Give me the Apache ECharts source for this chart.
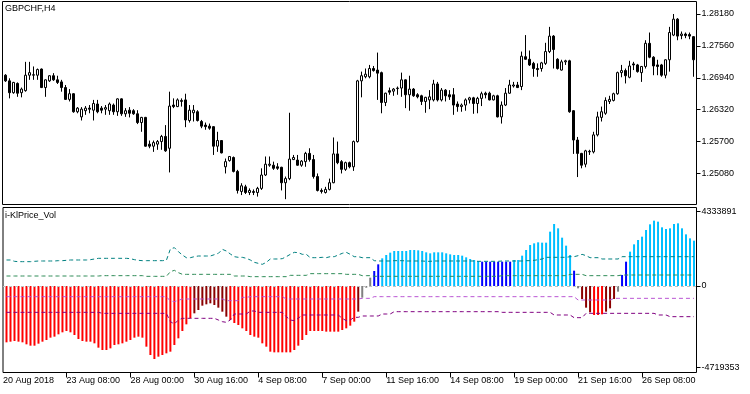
<!DOCTYPE html>
<html><head><meta charset="utf-8">
<script src="https://cdn.jsdelivr.net/npm/echarts@6/dist/echarts.min.js"></script>
<style>html,body{margin:0;padding:0;background:#fff}#c{width:750px;height:394px}</style>
</head><body><div id="c"></div>
<script>
// ---------- price panel (GBPCHF, H4), bar index 0..172 ----------
const openP = [
1.2699,1.2688,1.2665,1.2683,1.2665,1.2669,1.2699,1.2699,1.2699,1.2711,
1.2675,1.2688,1.2698,1.2690,1.2686,1.2675,1.2652,1.2663,1.2628,1.2618,
1.2630,1.2635,1.2631,1.2643,1.2635,1.2633,1.2630,1.2641,1.2628,1.2653,
1.2624,1.2631,1.2630,1.2624,1.2607,1.2617,1.2565,1.2561,1.2565,1.2570,
1.2580,1.2557,1.2641,1.2638,1.2648,1.2651,1.2611,1.2626,1.2628,1.2609,
1.2602,1.2600,1.2599,1.2561,1.2572,1.2521,1.2533,1.2539,1.2512,1.2473,
1.2482,1.2471,1.2471,1.2471,1.2479,1.2505,1.2524,1.2524,1.2521,1.2520,
1.2490,1.2498,1.2535,1.2534,1.2524,1.2531,1.2547,1.2535,1.2502,1.2475,
1.2471,1.2477,1.2490,1.2546,1.2531,1.2516,1.2529,1.2521,1.2570,1.2688,
1.2696,1.2696,1.2712,1.2709,1.2704,1.2646,1.2669,1.2668,1.2673,1.2674,
1.2690,1.2661,1.2672,1.2661,1.2659,1.2648,1.2651,1.2651,1.2682,1.2651,
1.2670,1.2661,1.2661,1.2643,1.2638,1.2641,1.2651,1.2655,1.2644,1.2654,
1.2664,1.2664,1.2651,1.2659,1.2618,1.2641,1.2664,1.2678,1.2680,1.2677,
1.2735,1.2730,1.2722,1.2712,1.2712,1.2722,1.2745,1.2775,1.2730,1.2709,
1.2725,1.2727,1.2630,1.2573,1.2547,1.2526,1.2550,1.2550,1.2583,1.2617,
1.2625,1.2648,1.2650,1.2663,1.2704,1.2708,1.2695,1.2721,1.2719,1.2704,
1.2716,1.2761,1.2734,1.2719,1.2719,1.2699,1.2729,1.2777,1.2808,1.2776,
1.2779,1.2778,1.2774];
const highP = [
1.2701,1.2693,1.2686,1.2685,1.2675,1.2725,1.2725,1.2716,1.2712,1.2712,
1.2691,1.2699,1.2703,1.2698,1.2690,1.2680,1.2672,1.2664,1.2637,1.2637,
1.2639,1.2641,1.2651,1.2651,1.2639,1.2641,1.2646,1.2644,1.2654,1.2654,
1.2635,1.2637,1.2633,1.2631,1.2618,1.2618,1.2572,1.2572,1.2573,1.2583,
1.2602,1.2667,1.2654,1.2654,1.2654,1.2663,1.2641,1.2641,1.2631,1.2612,
1.2607,1.2605,1.2600,1.2589,1.2573,1.2537,1.2542,1.2541,1.2515,1.2489,
1.2486,1.2479,1.2477,1.2482,1.2518,1.2541,1.2541,1.2531,1.2528,1.2521,
1.2502,1.2626,1.2544,1.2544,1.2534,1.2550,1.2557,1.2544,1.2508,1.2479,
1.2482,1.2498,1.2578,1.2570,1.2534,1.2531,1.2531,1.2572,1.2690,1.2706,
1.2712,1.2719,1.2717,1.2743,1.2706,1.2665,1.2675,1.2674,1.2677,1.2704,
1.2691,1.2698,1.2674,1.2664,1.2661,1.2657,1.2670,1.2690,1.2686,1.2674,
1.2672,1.2670,1.2674,1.2648,1.2644,1.2654,1.2657,1.2657,1.2657,1.2667,
1.2667,1.2667,1.2661,1.2661,1.2648,1.2674,1.2690,1.2686,1.2686,1.2745,
1.2777,1.2747,1.2725,1.2722,1.2725,1.2762,1.2793,1.2777,1.2732,1.2729,
1.2729,1.2729,1.2631,1.2579,1.2548,1.2554,1.2554,1.2589,1.2628,1.2638,
1.2656,1.2659,1.2665,1.2706,1.2719,1.2712,1.2727,1.2725,1.2721,1.2717,
1.2767,1.2782,1.2736,1.2729,1.2721,1.2730,1.2793,1.2818,1.2810,1.2784,
1.2782,1.2782,1.2775];
const lowP = [
1.2686,1.2654,1.2663,1.2657,1.2656,1.2667,1.2690,1.2690,1.2690,1.2674,
1.2657,1.2686,1.2688,1.2682,1.2667,1.2651,1.2648,1.2626,1.2625,1.2611,
1.2622,1.2625,1.2611,1.2625,1.2625,1.2622,1.2622,1.2622,1.2620,1.2620,
1.2618,1.2617,1.2622,1.2604,1.2589,1.2560,1.2557,1.2550,1.2554,1.2554,
1.2550,1.2510,1.2635,1.2637,1.2638,1.2598,1.2607,1.2609,1.2609,1.2596,
1.2593,1.2593,1.2544,1.2550,1.2547,1.2508,1.2531,1.2510,1.2469,1.2466,
1.2468,1.2466,1.2466,1.2463,1.2476,1.2503,1.2521,1.2515,1.2515,1.2475,
1.2458,1.2495,1.2534,1.2523,1.2521,1.2521,1.2531,1.2498,1.2473,1.2469,
1.2469,1.2475,1.2489,1.2526,1.2508,1.2513,1.2518,1.2513,1.2568,1.2656,
1.2693,1.2693,1.2706,1.2651,1.2625,1.2639,1.2661,1.2659,1.2661,1.2657,
1.2635,1.2630,1.2657,1.2654,1.2641,1.2626,1.2633,1.2648,1.2648,1.2648,
1.2648,1.2651,1.2622,1.2628,1.2628,1.2630,1.2644,1.2624,1.2625,1.2639,
1.2654,1.2650,1.2650,1.2617,1.2605,1.2639,1.2663,1.2675,1.2674,1.2670,
1.2729,1.2717,1.2696,1.2696,1.2706,1.2719,1.2742,1.2712,1.2710,1.2708,
1.2719,1.2626,1.2546,1.2501,1.2518,1.2520,1.2544,1.2547,1.2580,1.2609,
1.2622,1.2643,1.2648,1.2661,1.2695,1.2683,1.2693,1.2709,1.2704,1.2686,
1.2712,1.2732,1.2699,1.2699,1.2696,1.2693,1.2706,1.2775,1.2767,1.2769,
1.2771,1.2769,1.2696];
const closeP = [
1.2688,1.2665,1.2685,1.2664,1.2672,1.2699,1.2704,1.2700,1.2710,1.2675,
1.2690,1.2698,1.2690,1.2685,1.2675,1.2652,1.2663,1.2628,1.2635,1.2633,
1.2635,1.2633,1.2644,1.2628,1.2631,1.2636,1.2643,1.2628,1.2653,1.2624,
1.2630,1.2625,1.2624,1.2607,1.2617,1.2561,1.2561,1.2568,1.2570,1.2580,
1.2552,1.2639,1.2638,1.2651,1.2650,1.2612,1.2631,1.2631,1.2611,1.2600,
1.2599,1.2596,1.2561,1.2572,1.2548,1.2531,1.2541,1.2512,1.2475,1.2484,
1.2471,1.2475,1.2473,1.2479,1.2505,1.2526,1.2526,1.2518,1.2518,1.2490,
1.2498,1.2536,1.2539,1.2524,1.2532,1.2547,1.2535,1.2502,1.2475,1.2473,
1.2477,1.2490,1.2546,1.2529,1.2516,1.2529,1.2521,1.2570,1.2688,1.2698,
1.2701,1.2712,1.2708,1.2703,1.2646,1.2664,1.2666,1.2672,1.2674,1.2690,
1.2661,1.2672,1.2659,1.2657,1.2648,1.2656,1.2657,1.2682,1.2651,1.2670,
1.2659,1.2657,1.2641,1.2638,1.2641,1.2651,1.2655,1.2644,1.2654,1.2663,
1.2661,1.2651,1.2659,1.2618,1.2641,1.2664,1.2680,1.2680,1.2675,1.2736,
1.2730,1.2719,1.2712,1.2710,1.2723,1.2745,1.2775,1.2749,1.2712,1.2725,
1.2727,1.2628,1.2573,1.2547,1.2524,1.2552,1.2551,1.2583,1.2618,1.2628,
1.2650,1.2652,1.2663,1.2704,1.2708,1.2698,1.2717,1.2719,1.2706,1.2716,
1.2761,1.2734,1.2717,1.2716,1.2699,1.2729,1.2782,1.2808,1.2775,1.2779,
1.2776,1.2775,1.2729];
const priceTicks = [1.25080, 1.25700, 1.26320, 1.26940, 1.27560, 1.28180];

// ---------- i-KlPrice_Vol panel ----------
const histVol = [
-3269000,-3231000,-3192000,-3231000,-3269000,-3385000,-3463000,-3463000,-3347000,-3231000,
-3134000,-2998000,-2940000,-2805000,-2689000,-2612000,-2689000,-2844000,-3076000,-3192000,
-3231000,-3231000,-3327000,-3579000,-3714000,-3714000,-3618000,-3424000,-3385000,-3327000,
-3231000,-3134000,-2998000,-2940000,-2998000,-3521000,-4004000,-4237000,-4101000,-4004000,
-3908000,-3811000,-3424000,-3037000,-2612000,-2225000,-1876000,-1586000,-1393000,-1141000,
-1064000,-1006000,-1103000,-1257000,-1490000,-1780000,-1973000,-2147000,-2264000,-2457000,
-2612000,-2844000,-2940000,-2998000,-3327000,-3521000,-3811000,-3850000,-3850000,-3850000,
-3850000,-3850000,-3714000,-3463000,-3134000,-2844000,-2612000,-2612000,-2612000,-2612000,
-2650000,-2650000,-2650000,-2650000,-2554000,-2457000,-2302000,-2070000,-1490000,-677000,
-100000,484000,871000,1257000,1606000,1799000,1935000,2031000,2031000,2031000,
2031000,2089000,2089000,2070000,2031000,1954000,1896000,1954000,1954000,1954000,
1896000,1838000,1799000,1799000,1760000,1664000,1567000,1509000,1451000,1412000,
1412000,1412000,1412000,1412000,1412000,1412000,1412000,1509000,1509000,1760000,
2089000,2379000,2476000,2534000,2515000,2515000,3153000,3598000,3347000,2805000,
2341000,1799000,890000,-135000,-754000,-1257000,-1528000,-1683000,-1683000,-1644000,
-1490000,-1296000,-754000,-329000,638000,1412000,1993000,2418000,2670000,2863000,
3250000,3579000,3792000,3734000,3405000,3308000,3347000,3598000,3637000,3347000,
2998000,2766000,2631000];
// colour state of each histogram bar, as runs:
// R red, D dark red, G gray, B blue, S deep sky blue
const histStateRuns = [['R',47],['D',9],['R',32],['D',1],['G',3],['B',2],['S',25],['B',8],
  ['S',15],['B',1],['G',1],['D',3],['R',3],['D',3],['G',1],['B',2],['S',17]];
const upperBand = [
1509000,1509000,1432000,1412000,1412000,1412000,1412000,1432000,1451000,1451000,
1451000,1451000,1451000,1470000,1470000,1490000,1509000,1509000,1509000,1509000,
1509000,1528000,1567000,1606000,1606000,1606000,1606000,1606000,1606000,1606000,
1606000,1586000,1528000,1490000,1470000,1470000,1470000,1470000,1470000,1470000,
1490000,2147000,2225000,1993000,1799000,1644000,1644000,1702000,1741000,1741000,
1741000,1741000,1818000,1896000,2128000,2031000,1857000,1702000,1664000,1664000,
1606000,1509000,1373000,1315000,1257000,1373000,1567000,1567000,1567000,1586000,
1702000,1838000,1954000,1935000,1838000,1838000,1644000,1644000,1644000,1664000,
1644000,1702000,1702000,1799000,1896000,1954000,1838000,1702000,1702000,1644000,
1644000,1644000,1470000,1451000,1451000,1451000,1451000,1470000,1470000,1470000,
1451000,1451000,1451000,1451000,1451000,1432000,1432000,1451000,1451000,1451000,
1451000,1451000,1451000,1451000,1451000,1451000,1451000,1451000,1432000,1432000,
1432000,1432000,1432000,1432000,1451000,1451000,1451000,1451000,1451000,1451000,
1470000,1470000,1490000,1528000,1567000,1664000,1664000,1664000,1664000,1664000,
1664000,1702000,1702000,1760000,1838000,1760000,1644000,1644000,1644000,1567000,
1567000,1567000,1567000,1567000,1702000,1702000,1702000,1702000,1702000,1702000,
1702000,1702000,1702000,1702000,1702000,1702000,1702000,1702000,1702000,1702000,
1702000,1702000,1702000];
const midUpperBand = [
580000,580000,580000,580000,580000,580000,580000,580000,580000,580000,
580000,580000,580000,580000,580000,580000,580000,580000,580000,580000,
580000,580000,580000,580000,600000,600000,600000,600000,600000,600000,
600000,600000,600000,600000,600000,561000,561000,561000,561000,561000,
561000,832000,909000,774000,677000,677000,677000,677000,677000,677000,
677000,677000,677000,677000,677000,677000,677000,580000,580000,580000,
580000,542000,542000,542000,542000,542000,542000,542000,542000,542000,
542000,619000,619000,619000,619000,619000,716000,716000,716000,716000,
716000,716000,716000,716000,716000,677000,677000,677000,677000,600000,
600000,600000,561000,561000,561000,561000,561000,561000,561000,561000,
561000,561000,561000,561000,561000,561000,561000,561000,561000,561000,
561000,561000,561000,561000,561000,561000,561000,561000,561000,561000,
561000,561000,561000,561000,600000,600000,600000,600000,600000,600000,
600000,600000,600000,600000,600000,600000,600000,600000,600000,600000,
600000,677000,677000,677000,677000,600000,600000,600000,600000,600000,
600000,600000,600000,600000,638000,638000,638000,638000,638000,638000,
638000,638000,638000,638000,638000,638000,638000,638000,638000,638000,
638000,638000,638000];
const midLowerBand = [
-619000,-619000,-619000,-619000,-619000,-619000,-619000,-619000,-619000,-619000,
-619000,-619000,-619000,-619000,-619000,-619000,-619000,-619000,-619000,-619000,
-619000,-619000,-619000,-619000,-619000,-619000,-619000,-619000,-619000,-619000,
-619000,-619000,-619000,-619000,-619000,-619000,-619000,-619000,-619000,-619000,
-619000,-871000,-909000,-832000,-754000,-754000,-754000,-754000,-754000,-754000,
-754000,-754000,-754000,-754000,-754000,-851000,-851000,-851000,-851000,-658000,
-658000,-619000,-619000,-619000,-619000,-619000,-619000,-619000,-619000,-619000,
-754000,-754000,-754000,-754000,-754000,-754000,-754000,-754000,-754000,-754000,
-754000,-754000,-754000,-754000,-754000,-754000,-754000,-754000,-754000,-716000,
-716000,-716000,-619000,-619000,-619000,-619000,-619000,-619000,-619000,-619000,
-619000,-619000,-619000,-619000,-619000,-619000,-619000,-619000,-619000,-619000,
-619000,-619000,-619000,-619000,-619000,-619000,-619000,-619000,-619000,-619000,
-619000,-619000,-619000,-619000,-619000,-619000,-619000,-619000,-619000,-619000,
-619000,-619000,-619000,-619000,-619000,-619000,-619000,-619000,-619000,-619000,
-619000,-619000,-619000,-812000,-812000,-812000,-812000,-812000,-812000,-812000,
-812000,-812000,-716000,-716000,-716000,-716000,-716000,-716000,-716000,-716000,
-716000,-716000,-716000,-716000,-716000,-716000,-716000,-716000,-716000,-716000,
-716000,-716000,-716000];
const lowerBand = [
-1528000,-1528000,-1528000,-1528000,-1528000,-1528000,-1528000,-1528000,-1528000,-1528000,
-1528000,-1528000,-1528000,-1528000,-1528000,-1528000,-1528000,-1528000,-1528000,-1528000,
-1528000,-1528000,-1528000,-1528000,-1586000,-1586000,-1586000,-1586000,-1586000,-1586000,
-1586000,-1586000,-1586000,-1586000,-1586000,-1586000,-1586000,-1586000,-1586000,-1586000,
-1586000,-2070000,-2205000,-1973000,-1876000,-1876000,-1876000,-1876000,-1876000,-1876000,
-1876000,-1876000,-1876000,-1973000,-2070000,-2109000,-1973000,-1625000,-1625000,-1625000,
-1625000,-1451000,-1451000,-1528000,-1528000,-1528000,-1528000,-1528000,-1528000,-1528000,
-1780000,-1973000,-2012000,-1876000,-1683000,-1683000,-1683000,-1683000,-1683000,-1683000,
-1683000,-1683000,-1683000,-1683000,-1876000,-2012000,-1973000,-1818000,-1818000,-1741000,
-1741000,-1741000,-1741000,-1741000,-1625000,-1625000,-1625000,-1490000,-1490000,-1490000,
-1490000,-1490000,-1490000,-1490000,-1490000,-1490000,-1490000,-1490000,-1490000,-1490000,
-1490000,-1490000,-1490000,-1490000,-1490000,-1490000,-1490000,-1490000,-1490000,-1490000,
-1490000,-1490000,-1490000,-1490000,-1528000,-1528000,-1528000,-1528000,-1528000,-1528000,
-1528000,-1528000,-1528000,-1528000,-1528000,-1528000,-1528000,-1683000,-1683000,-1683000,
-1683000,-1683000,-1838000,-1838000,-1838000,-1586000,-1586000,-1586000,-1586000,-1586000,
-1586000,-1586000,-1586000,-1586000,-1586000,-1586000,-1586000,-1586000,-1586000,-1586000,
-1586000,-1586000,-1586000,-1683000,-1683000,-1683000,-1780000,-1780000,-1780000,-1780000,
-1780000,-1780000,-1780000];
const volTicks = [-4719353, 0, 4333891];

// time axis: bar index of each labelled tick and its text
const timeTickBars = [15, 31, 47, 63, 79, 95, 111, 127, 143, 159];
const timeTickLabels = ['23 Aug 08:00','28 Aug 00:00','30 Aug 16:00','4 Sep 08:00','7 Sep 00:00',
  '11 Sep 16:00','14 Sep 08:00','19 Sep 00:00','21 Sep 16:00','26 Sep 08:00'];
const firstLabel = '20 Aug 2018';

// ---------- build ----------
const stateColor = {R:'#FF0000', D:'#8B0000', G:'#808080', B:'#0000FF', S:'#00BFFF'};
const histState = [];
histStateRuns.forEach(([s, n]) => { for (let j = 0; j < n; j++) histState.push(s); });

const FONT = 'Liberation Sans';
const TITLE_FONT = '"Liberation Sans Narrow", "Liberation Sans"';
const topXMin = -0.75, topXMax = 172.75;
const botXMin = -0.875, botXMax = 172.625;

const labelMap = {};
labelMap[String(botXMin)] = firstLabel;
timeTickBars.forEach((b, i) => { labelMap[String(b)] = timeTickLabels[i]; });

const candleData = openP.map((o, i) => [i, o, closeP[i], lowP[i], highP[i]]);
const histData = histVol.map((v, i) => ({value: [i, v], itemStyle: {color: stateColor[histState[i]]}}));
const toXY = arr => arr.map((v, i) => [i, v]);

const lineSeries = (data, color) => ({
  type: 'line', xAxisIndex: 1, yAxisIndex: 1, data: toXY(data),
  symbol: 'none', showSymbol: false, silent: true, z: 5,
  lineStyle: {color: color, width: 1, type: [4, 3]}
});

const axisLabelBase = {fontSize: 9, color: '#000', fontFamily: FONT};
const noLine = {show: false, onZero: false};

const chart = echarts.init(document.getElementById('c'), null, {renderer: 'canvas'});
chart.setOption({
  animation: false,
  backgroundColor: '#fff',
  title: [
    {text: 'GBPCHF,H4', left: 5, top: 4, padding: 0,
     textStyle: {fontSize: 9, fontWeight: 'normal', color: '#000', fontFamily: TITLE_FONT}},
    {text: 'i-KlPrice_Vol', left: 5, top: 211, padding: 0,
     textStyle: {fontSize: 9, fontWeight: 'normal', color: '#000', fontFamily: FONT}}
  ],
  grid: [
    {left: 2.5, top: 1.5, width: 694, height: 203, show: true, borderColor: '#000', borderWidth: 1, backgroundColor: '#fff'},
    {left: 2.5, top: 207.5, width: 694, height: 165, show: true, borderColor: '#000', borderWidth: 1, backgroundColor: '#fff'}
  ],
  xAxis: [
    {gridIndex: 0, type: 'value', min: topXMin, max: topXMax, show: false, axisLine: noLine},
    {gridIndex: 1, type: 'value', min: botXMin, max: botXMax,
     axisLine: noLine, splitLine: {show: false},
     axisTick: {show: true, length: 5, customValues: timeTickBars, lineStyle: {color: '#000'}},
     axisLabel: Object.assign({show: true, customValues: [botXMin].concat(timeTickBars),
       formatter: v => labelMap[String(v)] || '', align: 'left', margin: 4, hideOverlap: false}, axisLabelBase)}
  ],
  yAxis: [
    {gridIndex: 0, type: 'value', position: 'right', min: 1.244766, max: 1.28423, scale: true,
     axisLine: noLine, splitLine: {show: false},
     axisTick: {show: true, length: 4, customValues: priceTicks, lineStyle: {color: '#000'}},
     axisLabel: Object.assign({customValues: priceTicks, formatter: v => v.toFixed(5), margin: 5}, axisLabelBase)},
    {gridIndex: 1, type: 'value', position: 'right', min: -5020030, max: 4555750,
     axisLine: noLine, splitLine: {show: false},
     axisTick: {show: true, length: 4, customValues: volTicks, lineStyle: {color: '#000'}},
     axisLabel: Object.assign({customValues: volTicks, formatter: v => String(v), margin: 5}, axisLabelBase)}
  ],
  series: [
    {type: 'candlestick', xAxisIndex: 0, yAxisIndex: 0, data: candleData,
     dimensions: ['idx', 'open', 'close', 'lowest', 'highest'],
     encode: {x: 'idx', y: ['open', 'close', 'lowest', 'highest']},
     barWidth: 2, silent: true,
     itemStyle: {color: '#fff', color0: '#000', borderColor: '#000', borderColor0: '#000',
                 borderColorDoji: '#000', borderWidth: 1}},
    {type: 'bar', xAxisIndex: 1, yAxisIndex: 1, data: histData, barWidth: 2, silent: true, z: 2,
     markLine: {silent: true, symbol: ['none', 'none'], label: {show: false},
                lineStyle: {color: '#C0C0C0', type: [3, 3], width: 1}, data: [{yAxis: 0}]}},
    lineSeries(upperBand, '#008080'),
    lineSeries(midUpperBand, '#2E8B57'),
    lineSeries(midLowerBand, '#BA55D3'),
    lineSeries(lowerBand, '#800080')
  ]
});
</script></body></html>
